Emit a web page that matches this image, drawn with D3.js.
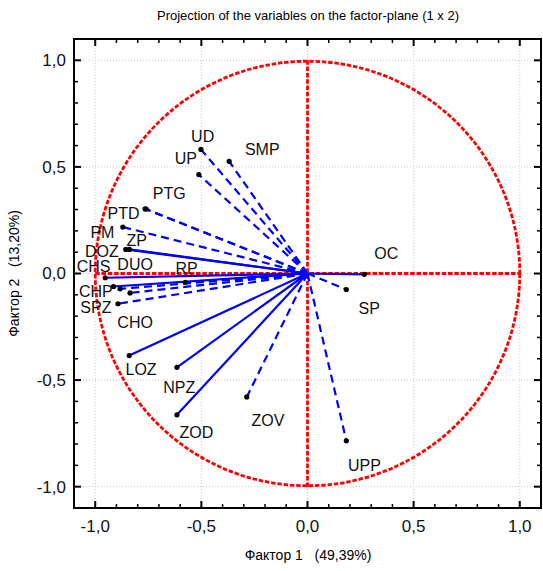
<!DOCTYPE html>
<html>
<head>
<meta charset="utf-8">
<script src="https://cdn.jsdelivr.net/npm/d3@7"></script>
<style>
    body { margin: 0; background: #fff; }
    svg { display: block; font-family: "Liberation Sans", Arial, sans-serif; }
</style>
</head>
<body>
<svg id="chart" width="543" height="571"></svg>
<script>
    // factor loadings
    var variables = ["UD", "SMP", "UP", "PTG", "PTD", "PM", "ZP", "DOZ", "CHS", "DUO", "RP",
                     "CHP", "CHO", "SPZ", "LOZ", "NPZ", "ZOD", "ZOV", "OC", "SP", "UPP"];
    var factor1 = [-0.502, -0.369, -0.512, -0.760, -0.765, -0.870, -0.839, -0.856, -0.953, -0.883, -0.575,
                   -0.914, -0.836, -0.893, -0.840, -0.615, -0.615, -0.286, 0.268, 0.183, 0.183];
    var factor2 = [0.582, 0.526, 0.464, 0.302, 0.303, 0.218, 0.113, 0.113, -0.020, -0.072, -0.041,
                   -0.061, -0.091, -0.142, -0.385, -0.440, -0.663, -0.579, -0.004, -0.075, -0.785];

    // variables drawn with a dashed vector
    var dashedVars = ["UD", "SMP", "UP", "PTG", "PTD", "PM", "RP", "DUO", "CHO", "SPZ", "ZOV", "SP", "UPP"];

    // where Statistica put each label (factor units)
    var labelAt = {
        UD: [-0.494, 0.643], SMP: [-0.213, 0.582], UP: [-0.573, 0.541], PTG: [-0.651, 0.374],
        PTD: [-0.867, 0.280], PM: [-0.966, 0.194], ZP: [-0.804, 0.155], DOZ: [-0.969, 0.105],
        CHS: [-1.008, 0.034], DUO: [-0.812, 0.045], RP: [-0.570, 0.022], CHP: [-0.997, -0.083],
        SPZ: [-0.997, -0.161], CHO: [-0.812, -0.229], LOZ: [-0.784, -0.452], NPZ: [-0.604, -0.534],
        ZOD: [-0.523, -0.745], ZOV: [-0.186, -0.690], OC: [0.371, 0.092], SP: [0.291, -0.165],
        UPP: [0.268, -0.901]
    };

    var majorTicks = [-1, -0.5, 0, 0.5, 1];
    var tickLabels = ["-1,0", "-0,5", "0,0", "0,5", "1,0"];

    var title = "Projection of the variables on the factor-plane (1 x 2)";
    var xTitle = "Фактор 1   (49,39%)";
    var yTitle = "Фактор 2   (13,20%)";

    var svg = d3.select("#chart");

    var x = d3.scaleLinear().domain([-1.1, 1.1]).range([74, 541]);
    var y = d3.scaleLinear().domain([-1.1, 1.1]).range([508, 39]);

    var minorTicks = d3.range(-10, 11).map(function(i) { return i / 10; });

    // grid
    var grid = svg.append("g")
        .attr("stroke", "#c8c8c8")
        .attr("stroke-width", 1)
        .attr("stroke-dasharray", "1,2");
    majorTicks.forEach(function(t) {
        grid.append("line").attr("x1", x(t)).attr("x2", x(t)).attr("y1", y(1.1)).attr("y2", y(-1.1));
        grid.append("line").attr("y1", y(t)).attr("y2", y(t)).attr("x1", x(-1.1)).attr("x2", x(1.1));
    });

    // unit circle and the axes cross
    var red = svg.append("g")
        .attr("fill", "none")
        .attr("stroke", "#ff0000")
        .attr("stroke-width", 2.8)
        .attr("stroke-dasharray", "4.5,1.8");

    red.append("circle")
        .attr("cx", x(0))
        .attr("cy", y(0))
        .attr("r", x(1) - x(0));

    // vectors
    var rows = variables.map(function(v, i) {
        return { name: v, f1: factor1[i], f2: factor2[i] };
    });

    svg.append("g")
        .selectAll("line")
        .data(rows)
        .enter()
        .append("line")
        .attr("x1", x(0))
        .attr("y1", y(0))
        .attr("x2", function(d) { return x(d.f1); })
        .attr("y2", function(d) { return y(d.f2); })
        .attr("stroke", "#0000ff")
        .attr("stroke-width", 2.2)
        .attr("stroke-dasharray", function(d) {
            return dashedVars.indexOf(d.name) >= 0 ? "8,5" : null;
        });

    red.append("line").attr("x1", x(-1)).attr("x2", x(1)).attr("y1", y(0)).attr("y2", y(0));
    red.append("line").attr("x1", x(0)).attr("x2", x(0)).attr("y1", y(1)).attr("y2", y(-1));

    // points
    svg.append("g")
        .selectAll("circle")
        .data(rows)
        .enter()
        .append("circle")
        .attr("cx", function(d) { return x(d.f1); })
        .attr("cy", function(d) { return y(d.f2); })
        .attr("r", 2.6)
        .attr("fill", "#000");

    svg.append("g")
        .attr("font-size", 16)
        .attr("fill", "#111")
        .attr("text-anchor", "middle")
        .selectAll("text")
        .data(rows)
        .enter()
        .append("text")
        .attr("x", function(d) { return x(labelAt[d.name][0]); })
        .attr("y", function(d) { return y(labelAt[d.name][1]); })
        .attr("dy", "0.35em")
        .text(function(d) { return d.name; });

    // frame with inward ticks on all four sides
    var fr = svg.append("g").attr("stroke", "#000");
    fr.append("rect")
        .attr("x", x(-1.1)).attr("y", y(1.1))
        .attr("width", x(1.1) - x(-1.1)).attr("height", y(-1.1) - y(1.1))
        .attr("fill", "none").attr("stroke-width", 2);

    minorTicks.forEach(function(t, i) {
        var len = (i % 5 === 0) ? 7 : 4;
        var w = (i % 5 === 0) ? 2 : 1.5;
        fr.append("line").attr("stroke-width", w)
            .attr("x1", x(t)).attr("x2", x(t)).attr("y1", y(-1.1)).attr("y2", y(-1.1) - len);
        fr.append("line").attr("stroke-width", w)
            .attr("x1", x(t)).attr("x2", x(t)).attr("y1", y(1.1)).attr("y2", y(1.1) + len);
        fr.append("line").attr("stroke-width", w)
            .attr("y1", y(t)).attr("y2", y(t)).attr("x1", x(-1.1)).attr("x2", x(-1.1) + len);
        fr.append("line").attr("stroke-width", w)
            .attr("y1", y(t)).attr("y2", y(t)).attr("x1", x(1.1)).attr("x2", x(1.1) - len);
    });

    var tl = svg.append("g").attr("font-size", 17).attr("fill", "#111");
    majorTicks.forEach(function(t, i) {
        tl.append("text")
            .attr("x", x(t)).attr("y", y(-1.1) + 24)
            .attr("text-anchor", "middle")
            .text(tickLabels[i]);
        tl.append("text")
            .attr("x", x(-1.1) - 8).attr("y", y(t))
            .attr("dy", "0.35em")
            .attr("text-anchor", "end")
            .text(tickLabels[i]);
    });

    // titles
    svg.append("text")
        .attr("x", 308).attr("y", 20)
        .attr("text-anchor", "middle")
        .attr("font-size", 13)
        .text(title);

    svg.append("text")
        .attr("x", 308).attr("y", 560)
        .attr("text-anchor", "middle")
        .attr("font-size", 14)
        .style("white-space", "pre")
        .text(xTitle);

    svg.append("text")
        .attr("transform", "translate(19," + y(0) + ") rotate(-90)")
        .attr("text-anchor", "middle")
        .attr("font-size", 14)
        .style("white-space", "pre")
        .text(yTitle);
</script>
</body>
</html>
